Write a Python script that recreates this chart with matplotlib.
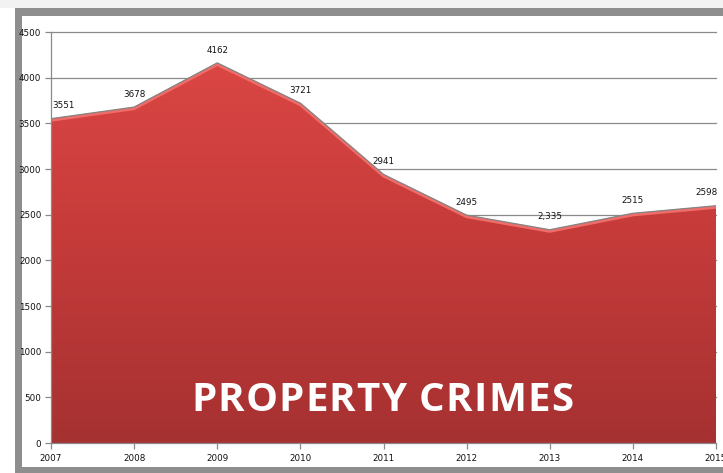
import numpy as np
import matplotlib.pyplot as plt
import matplotlib.patheffects as pe
from matplotlib.patches import Rectangle
from matplotlib.colors import LinearSegmentedColormap

years = [2007, 2008, 2009, 2010, 2011, 2012, 2013, 2014, 2015]
crimes = [3551, 3678, 4162, 3721, 2941, 2495, 2335, 2515, 2598]
point_labels = ["3551", "3678", "4162", "3721", "2941", "2495", "2,335", "2515", "2598"]
y_ticks = [0, 500, 1000, 1500, 2000, 2500, 3000, 3500, 4000, 4500]
title = "PROPERTY CRIMES"

W, H = 723, 473
fig = plt.figure(figsize=(W / 100, H / 100), dpi=100)
fig.patch.set_facecolor("white")

# gray frame around the chart (drawn behind the axes)
fig.patches.append(Rectangle((15 / W, 0), 1, (H - 8) / H, transform=fig.transFigure,
                             facecolor="#8e8e8e", edgecolor="none", zorder=-3))
fig.patches.append(Rectangle((22 / W, 6 / H), 1, (H - 16 - 6) / H, transform=fig.transFigure,
                             facecolor="white", edgecolor="none", zorder=-2))
fig.patches.append(Rectangle((0, (H - 8) / H), 1, 8 / H, transform=fig.transFigure,
                             facecolor="#f2f2f2", edgecolor="none", zorder=-2))

left, right, top, bottom = 51, 716, 32, 443
ax = fig.add_axes([left / W, (H - bottom) / H, (right - left) / W, (bottom - top) / H])
ax.set_facecolor("none")
ax.set_xlim(years[0], years[-1])
ax.set_ylim(0, 4500)

for t in y_ticks[1:]:
    ax.axhline(t, color="#8a8a8a", lw=0.9, zorder=1, clip_on=False)

# gradient area
fill = ax.fill_between(years, crimes, 0, facecolor="none", edgecolor="none", zorder=2)
cmap = LinearSegmentedColormap.from_list("red", ["#a63131", "#c53b3a", "#de4845"])
grad = np.linspace(0, 1, 256).reshape(-1, 1)
img = ax.imshow(grad, cmap=cmap, origin="lower", aspect="auto",
                extent=[years[0], years[-1], 0, 4500], zorder=2)
img.set_clip_path(fill.get_paths()[0], transform=ax.transData)

# thin gray outline with a light pink bevel just inside
ax.plot(years, crimes, color="#858585", lw=0.9, zorder=3, solid_joinstyle="round",
        path_effects=[pe.Stroke(offset=(0, -1.1), linewidth=2.2, foreground="#ef6c68"),
                      pe.Normal()])

for i, (x, y, s) in enumerate(zip(years, crimes, point_labels)):
    dx = 0
    if i == 0:
        dx = 9
    elif i == len(years) - 1:
        dx = -7
    ax.annotate(s, (x, y), xytext=(dx, 6), textcoords="offset points",
                ha="center", va="bottom", fontsize=6.3, color="#111111", zorder=5)

ax.set_xticks(years)
ax.set_xticklabels([str(y) for y in years])
ax.set_yticks(y_ticks)
ax.tick_params(axis="both", labelsize=6.3, colors="#8a8a8a", labelcolor="#111111",
               length=4, width=0.9, direction="out")
ax.tick_params(axis="y", pad=3)
ax.tick_params(axis="x", pad=4)
for side in ["top", "right"]:
    ax.spines[side].set_visible(False)
for side in ["left", "bottom"]:
    ax.spines[side].set_color("#8a8a8a")
    ax.spines[side].set_linewidth(0.9)
    ax.spines[side].set_zorder(4)

# letter-spaced title, placed char by char
renderer = fig.canvas.get_renderer()
tkw = dict(fontsize=29, fontweight="bold", family="Open Sans", color="white")


def text_width(s):
    if not s:
        return 0.0
    t = fig.text(0, 0, s, **tkw)
    w = t.get_window_extent(renderer).width
    t.remove()
    return w


spacing = (382 - text_width(title)) / (len(title) - 1)
x0 = 382 - (text_width(title) + spacing * (len(title) - 1)) / 2
for i, ch in enumerate(title):
    if ch == " ":
        continue
    xp = x0 + text_width(title[:i]) + spacing * i
    fig.text(xp / W, (H - 411) / H, ch, ha="left", va="baseline", zorder=6, **tkw)

fig.savefig("out.png", dpi=100)
